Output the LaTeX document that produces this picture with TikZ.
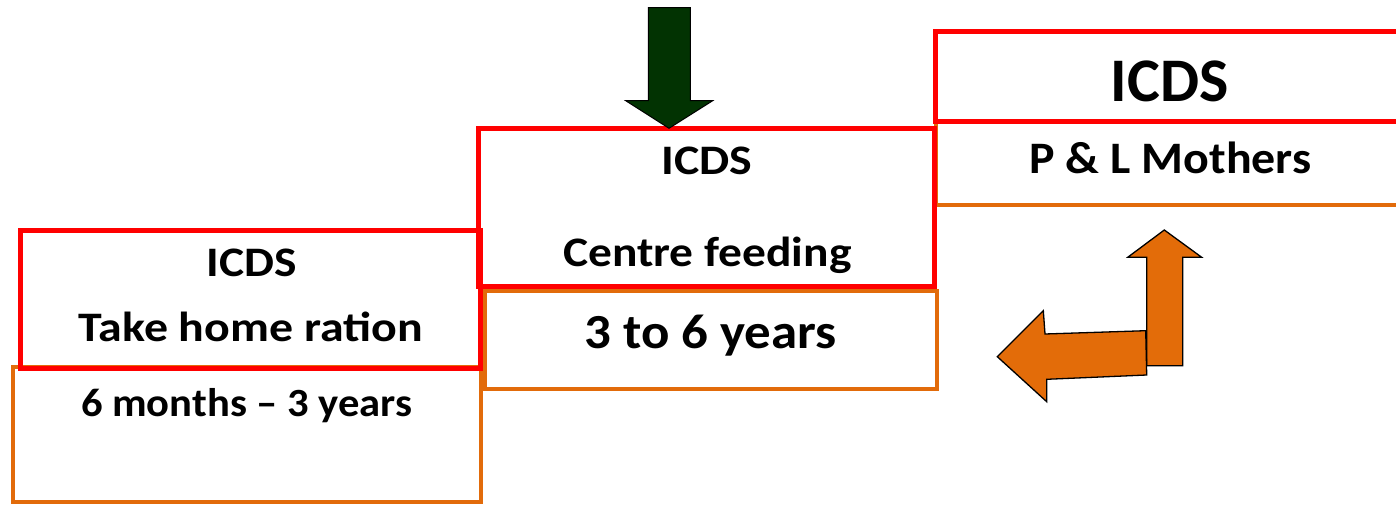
\documentclass[tikz,border=0pt]{standalone}
\usepackage{fontspec}
\setmainfont{Carlito}
\definecolor{boxred}{RGB}{255,0,0}
\definecolor{boxorange}{RGB}{226,107,10}
\definecolor{arroworange}{RGB}{227,108,9}
\definecolor{darkgreen}{RGB}{2,51,2}
\newcommand{\wtext}[2]{\scalebox{#1}[1]{#2}}
\begin{document}
\begin{tikzpicture}[x=1pt,y=-1pt,
  rbox/.style={draw=boxred,line width=5pt},
  obox/.style={draw=boxorange,line width=4pt},
  lbl/.style={anchor=base,inner sep=0pt,font=\bfseries\fontsize{#1}{#1}\selectfont},
  blockarrow/.style={draw=black,line width=1.3pt,line join=miter}]
\useasboundingbox (0,0) rectangle (1396,505);
\clip (0,0) rectangle (1396,505);
% orange (lower) boxes
\draw[obox] (13.3,366.7) rectangle (481,501.7);
\draw[obox] (485,291) rectangle (936.7,389.3);
\draw[obox] (936,122) rectangle (1410,205.3);
% red (upper) boxes
\draw[rbox] (20.7,230.7) rectangle (480.3,368.3);
\draw[rbox] (478.3,128.3) rectangle (934.3,286);
\draw[rbox] (935.7,31.7) rectangle (1410,121.7);
% texts
\node[lbl=42] (l1) at (251.5,276.7) {\wtext{1.13}{ICDS}};
\node[lbl=42] (l2) at (250.8,341.7) {\wtext{1.14}{Take home ration}};
\node[lbl=40] (l3) at (246.8,416.7) {\wtext{1.065}{6 months – 3 years}};
\node[lbl=42] (m1) at (707,174.3) {\wtext{1.14}{ICDS}};
\node[lbl=42] (m2) at (707.3,266.7) {\wtext{1.13}{Centre feeding}};
\node[lbl=49] (m3) at (710.5,348.3) {\wtext{1.08}{3 to 6 years}};
\node[lbl=62] (r1) at (1169.8,101.7) {ICDS};
\node[lbl=45] (r2) at (1170.5,173.3) {\wtext{1.065}{P \& L Mothers}};
% green down arrow
\draw[blockarrow,fill=darkgreen,line width=1pt] (648.3,7.7) -- (690.3,7.7) -- (690.3,100.7) -- (712.7,100.7)
  -- (669,128.3) -- (625.7,100.7) -- (648.3,100.7) -- cycle;
% orange bent arrows
\draw[blockarrow,fill=arroworange] (1146.7,365.7) -- (1146.7,257.3) -- (1127.7,257.3) -- (1164.3,230)
  -- (1201.7,257.3) -- (1182.7,257.3) -- (1182.7,365.7) -- cycle;
\draw[blockarrow,fill=arroworange] (1145.7,330.7) -- (1045,334) -- (1043.3,310.7) -- (997.3,356.7)
  -- (1046.7,401.7) -- (1046.7,379.3) -- (1146.7,375) -- cycle;
\end{tikzpicture}
\end{document}
